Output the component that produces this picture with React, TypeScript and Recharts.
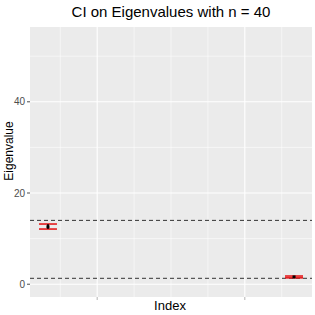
import React from 'react';
import {
  ComposedChart,
  Scatter,
  ErrorBar,
  XAxis,
  YAxis,
  ReferenceLine,
  ReferenceArea,
} from 'recharts';

const indices = [1, 2];
const eigenvalues = [12.6, 1.6];
const ciLow = [12.1, 1.4];
const ciHigh = [13.2, 1.8];
const dashedLevels = [14.0, 1.3];
const xGrid = [1.05, 1.2, 1.35, 1.5, 1.65, 1.8, 1.95];
const xTicks = [1.2, 1.8];
const yGrid = [0, 10, 20, 30, 40, 50];
const yTicks = [0, 20, 40];

const data = indices.map((x, i) => ({
  x,
  y: eigenvalues[i],
  err: [eigenvalues[i] - ciLow[i], ciHigh[i] - eigenvalues[i]],
}));

const X_DOMAIN: [number, number] = [0.927, 2.073];
const Y_DOMAIN: [number, number] = [-2.8, 56.4];

export default function App() {
  return (
    <div style={{ position: 'absolute', left: 0, top: 0, background: '#fff' }}>
      <ComposedChart
        width={315}
        height={315}
        data={data}
        margin={{ top: 27, right: 3, bottom: 0, left: 0 }}
        style={{ fontFamily: 'Liberation Sans, Arial, sans-serif' }}
      >
        <text x={171} y={17} textAnchor="middle" fontSize={15} fill="#000">
          CI on Eigenvalues with n = 40
        </text>
        <text x={170} y={310} textAnchor="middle" fontSize={13} fill="#000">
          Index
        </text>
        <text
          x={13}
          y={151}
          textAnchor="middle"
          fontSize={12}
          fill="#000"
          transform="rotate(-90 13 151)"
        >
          Eigenvalue
        </text>
        <XAxis
          type="number"
          dataKey="x"
          domain={X_DOMAIN}
          ticks={xTicks}
          tickFormatter={() => ''}
          allowDataOverflow
          axisLine={false}
          tickLine={{ stroke: '#b3b3b3' }}
          tickSize={3}
          height={18}
        />
        <YAxis
          type="number"
          dataKey="y"
          domain={Y_DOMAIN}
          ticks={yTicks}
          allowDataOverflow
          axisLine={false}
          tickLine={{ stroke: '#4d4d4d' }}
          tickSize={3}
          tick={{ fill: '#4d4d4d', fontSize: 10 }}
          width={30}
        />
        <ReferenceArea
          x1={X_DOMAIN[0]}
          x2={X_DOMAIN[1]}
          y1={Y_DOMAIN[0]}
          y2={Y_DOMAIN[1]}
          fill="#ebebeb"
          fillOpacity={1}
          stroke="none"
          ifOverflow="hidden"
        />
        {yGrid.map((v) => (
          <ReferenceLine
            key={'y' + v}
            y={v}
            stroke="#ffffff"
            strokeWidth={v % 20 === 0 ? 1.1 : 0.55}
          />
        ))}
        {xGrid.map((v) => (
          <ReferenceLine
            key={'x' + v}
            x={v}
            stroke="#ffffff"
            strokeWidth={xTicks.includes(v) ? 1.1 : 0.55}
          />
        ))}
        {dashedLevels.map((v) => (
          <ReferenceLine key={'d' + v} y={v} stroke="#333333" strokeDasharray="4 3" strokeWidth={1} />
        ))}
        <Scatter
          dataKey="y"
          fill="#000"
          isAnimationActive={false}
          shape={(p: any) => (
            <rect x={p.cx - 1.5} y={p.cy - 1.5} width={3} height={3} fill="#000" />
          )}
        >
          <ErrorBar dataKey="err" direction="y" width={9} stroke="#e41a1c" strokeWidth={1.6} />
          <ErrorBar dataKey="err" direction="y" width={0} stroke="#111" strokeWidth={1.6} />
        </Scatter>
      </ComposedChart>
    </div>
  );
}
